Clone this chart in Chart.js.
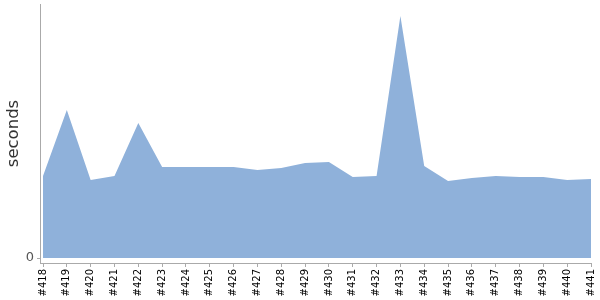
<!DOCTYPE html>
<html>
<head>
<meta charset="utf-8">
<style>
  html, body { margin: 0; padding: 0; background: #fff; }
  #wrap { width: 600px; height: 300px; }
</style>
<script src="https://cdn.jsdelivr.net/npm/chart.js@4/dist/chart.umd.min.js"></script>
</head>
<body>
<div id="wrap"><canvas id="chart"></canvas></div>
<script>
// build labels and durations (seconds)
const builds = ['#418', '#419', '#420', '#421', '#422', '#423', '#424', '#425', '#426', '#427', '#428', '#429',
  '#430', '#431', '#432', '#433', '#434', '#435', '#436', '#437', '#438', '#439', '#440', '#441'];
const durations = [8.2, 14.8, 7.8, 8.2, 13.5, 9.1, 9.1, 9.1, 9.1, 8.8, 9.0, 9.5,
  9.6, 8.1, 8.2, 24.2, 9.2, 7.7, 8.0, 8.2, 8.1, 8.1, 7.8, 7.9];
const yTicks = [0];

const axisColor = '#aaa';

new Chart('chart', {
  type: 'line',
  data: {
    datasets: [{
      data: durations.map((v, i) => ({x: i, y: v})),
      fill: 'origin',
      backgroundColor: 'rgb(143,177,218)',
      borderWidth: 0,
      pointRadius: 0,
      tension: 0,
    }],
  },
  options: {
    responsive: true,
    maintainAspectRatio: false,
    animation: false,
    layout: {padding: {top: 4, right: 9, left: 0, bottom: 0}},
    plugins: {legend: {display: false}, tooltip: {enabled: false}},
    scales: {
      x: {
        type: 'linear',
        min: -0.126,
        max: builds.length - 1,
        afterBuildTicks: scale => {
          scale.ticks = builds.map((b, i) => ({value: i}));
        },
        afterFit: scale => {
          scale.height = 37;
          scale.paddingLeft = 0;
          scale.paddingRight = 0;
        },
        border: {color: axisColor, width: 1},
        grid: {drawOnChartArea: false, drawTicks: true, tickLength: 4, color: axisColor},
        ticks: {
          autoSkip: false,
          maxRotation: 90,
          minRotation: 90,
          padding: 2,
          color: '#000',
          font: {family: 'DejaVu Sans', size: 10},
          callback: v => builds[v],
        },
      },
      y: {
        min: -0.5,
        max: 25.4,
        afterBuildTicks: scale => {
          scale.ticks = yTicks.map(v => ({value: v}));
        },
        afterFit: scale => {
          scale.width = 40;
          scale.paddingTop = 0;
          scale.paddingBottom = 0;
        },
        border: {color: axisColor, width: 1},
        grid: {drawOnChartArea: false, drawTicks: true, tickLength: 3, color: axisColor},
        ticks: {
          padding: 3,
          color: '#555',
          font: {family: 'DejaVu Sans', size: 13},
        },
        title: {
          display: true,
          text: 'seconds',
          color: '#333',
          padding: {top: 4, bottom: 2},
          font: {family: 'DejaVu Sans', size: 16.5},
        },
      },
    },
  },
});
</script>
</body>
</html>
